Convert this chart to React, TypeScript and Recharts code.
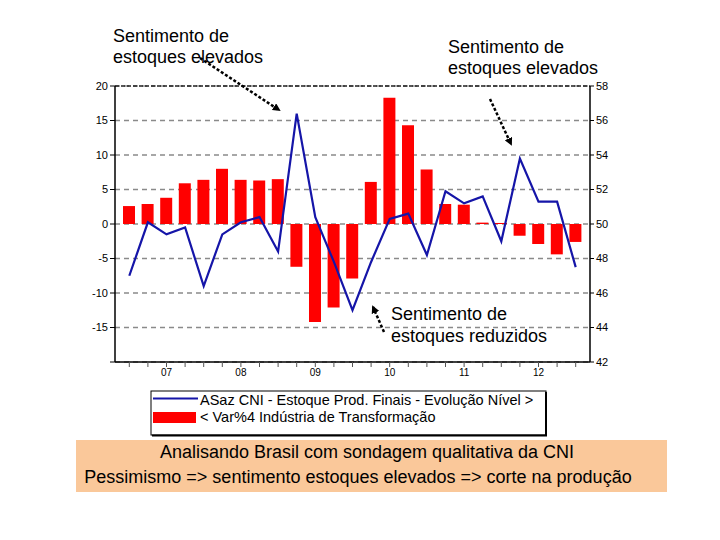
import React from 'react';
import { ComposedChart, Bar, Line, XAxis, YAxis, CartesianGrid, ReferenceLine } from 'recharts';

const periods = [
  '06T3', '06T4', '07T1', '07T2', '07T3', '07T4', '08T1', '08T2', '08T3', '08T4',
  '09T1', '09T2', '09T3', '09T4', '10T1', '10T2', '10T3', '10T4', '11T1', '11T2',
  '11T3', '11T4', '12T1', '12T2', '12T3',
];
const xTickLabels = [
  '', '', '07', '', '', '', '08', '', '', '',
  '09', '', '', '', '10', '', '', '', '11', '',
  '', '', '12', '', '',
];
// < Var%4 Indústria de Transformação (left axis)
const varIndustria = [
  2.6, 2.9, 3.8, 5.9, 6.4, 8.0, 6.4, 6.3, 6.5, -6.2,
  -14.2, -12.1, -7.9, 6.1, 18.3, 14.3, 7.9, 2.9, 2.8, 0.2,
  0.15, -1.7, -2.9, -4.4, -2.6,
];
// ASaz CNI - Estoque Prod. Finais - Evolução Nível > (right axis)
const estoqueCNI = [
  47.0, 50.1, 49.4, 49.8, 46.4, 49.4, 50.1, 50.4, 48.4, 56.4,
  50.4, 47.8, 45.0, 47.8, 50.3, 50.6, 48.2, 51.9, 51.2, 51.6,
  49.0, 53.8, 51.3, 51.3, 47.5,
];
const leftTicks = [-20, -15, -10, -5, 0, 5, 10, 15, 20];
const rightTicks = [42, 44, 46, 48, 50, 52, 54, 56, 58];

const legendLine = 'ASaz CNI - Estoque Prod. Finais - Evolução Nível >';
const legendBar = '< Var%4 Indústria de Transformação';
const noteTop1 = ['Sentimento de', 'estoques elevados'];
const noteTop2 = ['Sentimento de', 'estoques elevados'];
const noteLow = ['Sentimento de', 'estoques reduzidos'];
const footer = [
  'Analisando Brasil com sondagem qualitativa da CNI',
  'Pessimismo => sentimento estoques elevados => corte na produção',
];

const data = periods.map((p, i) => ({ period: p, bar: varIndustria[i], line: estoqueCNI[i] }));

const FONT = 'Liberation Sans, Arial, Helvetica, sans-serif';

export default function App() {
  return (
    <div style={{ position: 'absolute', left: 0, top: 0, width: 720, height: 540, background: '#fff', fontFamily: FONT }}>
      <ComposedChart
        width={720}
        height={540}
        data={data}
        margin={{ top: 86, right: 90, bottom: 158, left: 75 }}
      >
        <CartesianGrid
          yAxisId="left"
          vertical={false}
          stroke="#8a8a8a"
          strokeWidth={1.5}
          strokeDasharray="5 4"
        />
        <XAxis
          dataKey="period"
          interval={0}
          padding={{ left: 5, right: 5 }}
          height={20}
          tickSize={5}
          tickLine={{ stroke: '#555' }}
          axisLine={{ stroke: '#000', strokeWidth: 1.5 }}
          tick={{ fontSize: 10, fill: '#000', fontFamily: FONT }}
          tickFormatter={(_v: string, i: number) => xTickLabels[i]}
        />
        <YAxis
          yAxisId="left"
          width={40}
          domain={[-20, 20]}
          ticks={leftTicks}
          interval={0}
          tickSize={5}
          tickLine={{ stroke: '#000' }}
          axisLine={{ stroke: '#000', strokeWidth: 1.5 }}
          tick={{ fontSize: 11, fill: '#000', fontFamily: FONT }}
          tickFormatter={(v: number) => (v === -20 ? '' : String(v))}
        />
        <YAxis
          yAxisId="right"
          orientation="right"
          width={40}
          domain={[42, 58]}
          ticks={rightTicks}
          interval={0}
          tickSize={4}
          tickLine={{ stroke: '#000' }}
          axisLine={{ stroke: '#000', strokeWidth: 1.5 }}
          tick={{ fontSize: 11, fill: '#000', fontFamily: FONT }}
        />
        <ReferenceLine yAxisId="left" y={20} stroke="#222" strokeWidth={1.5} strokeDasharray="4 2" />
        <Bar yAxisId="left" dataKey="bar" fill="#ff0000" barSize={12} isAnimationActive={false} />
        <Line
          yAxisId="right"
          dataKey="line"
          type="linear"
          stroke="#1515a8"
          strokeWidth={2.2}
          dot={false}
          isAnimationActive={false}
        />
      </ComposedChart>
      <svg
        width={720}
        height={540}
        style={{ position: 'absolute', left: 0, top: 0, pointerEvents: 'none' }}
        fontFamily={FONT}
      >
        <defs>
          <marker id="ah" markerWidth="8" markerHeight="8" refX="6" refY="4" orient="auto" markerUnits="userSpaceOnUse">
            <path d="M0,0 L8,4 L0,8 Z" fill="#000" />
          </marker>
        </defs>
        {/* annotation texts */}
        <text x={113} y={42} fontSize={18} fill="#000">{noteTop1[0]}</text>
        <text x={113} y={63} fontSize={18} fill="#000">{noteTop1[1]}</text>
        <text x={448} y={53} fontSize={18} fill="#000">{noteTop2[0]}</text>
        <text x={448} y={74} fontSize={18} fill="#000">{noteTop2[1]}</text>
        <text x={391} y={320} fontSize={18} fill="#000">{noteLow[0]}</text>
        <text x={391} y={342} fontSize={18} fill="#000">{noteLow[1]}</text>
        {/* arrows */}
        <line x1={200} y1={58} x2={279} y2={110} stroke="#000" strokeWidth={2.5} strokeDasharray="3 2" markerEnd="url(#ah)" />
        <line x1={490} y1={99} x2={511} y2={144} stroke="#000" strokeWidth={2.5} strokeDasharray="3 2" markerEnd="url(#ah)" />
        <line x1={384} y1={332} x2={373} y2={307} stroke="#000" strokeWidth={2.5} strokeDasharray="3 2" markerEnd="url(#ah)" />
        {/* legend */}
        <rect x={151} y={391} width={395} height={44} fill="#fff" stroke="#000" strokeWidth={1} />
        <line x1={546} y1={392} x2={546} y2={436} stroke="#000" strokeWidth={2} />
        <line x1={152} y1={435.5} x2={547} y2={435.5} stroke="#000" strokeWidth={2} />
        <line x1={153} y1={398.5} x2={198} y2={398.5} stroke="#1515a8" strokeWidth={2} />
        <rect x={153} y={412} width={43} height={11} fill="#ff0000" />
        <text x={200} y={405} fontSize={14.5} fill="#000">{legendLine}</text>
        <text x={200} y={422} fontSize={14.5} fill="#000">{legendBar}</text>
        {/* footer box */}
        <rect x={76} y={440} width={591} height={52} fill="#fac89a" />
        <text x={367} y={458} fontSize={18} fill="#000" textAnchor="middle">{footer[0]}</text>
        <text x={358} y={483} fontSize={18} fill="#000" textAnchor="middle">{footer[1]}</text>
      </svg>
    </div>
  );
}
